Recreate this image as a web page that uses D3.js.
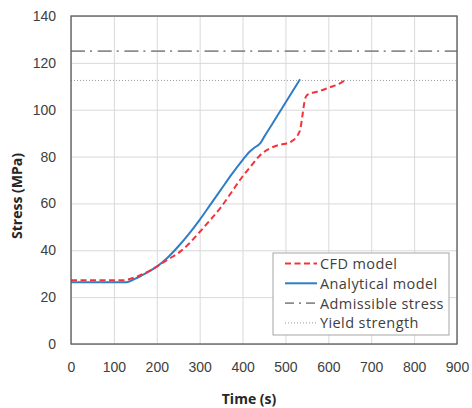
<!DOCTYPE html>
<html>
<head>
<meta charset="utf-8">
<script src="https://cdn.jsdelivr.net/npm/d3@7"></script>
<style>
  body { margin: 0; background: #fff; }
  svg { font-family: "Open Sans", "Liberation Sans", sans-serif; }
</style>
</head>
<body>
<svg id="chart" width="472" height="408"></svg>
<script>
// data
var cfdTime   = [0, 60, 120, 150, 175, 200, 225, 250, 275, 300, 325, 350, 375, 400, 420, 441, 464, 485, 500, 515, 527, 535, 540, 545, 550, 560, 580, 604, 625, 639];
var cfdStress = [27.2, 27.2, 27.2, 28.5, 30.5, 33, 36, 38.8, 42.8, 47.8, 53, 58.5, 65, 71.5, 76, 80.6, 83.5, 85, 85.5, 86.6, 88.7, 92, 98, 104, 106.2, 107, 108, 109.6, 111, 112.6];
var anaTime   = [0, 60, 130, 150, 175, 200, 225, 250, 275, 300, 325, 350, 375, 400, 417, 429, 441, 450, 470, 500, 534];
var anaStress = [26.4, 26.4, 26.4, 27.9, 30.3, 33, 36.8, 41.6, 47, 53, 59.5, 66, 72.5, 78.5, 82.2, 84, 85.6, 88.3, 94.1, 103, 113];
var admissible = 125;
var yieldStrength = 112.5;
var xTicks = [0, 100, 200, 300, 400, 500, 600, 700, 800, 900];
var yTicks = [0, 20, 40, 60, 80, 100, 120, 140];
var legendLabels = ["CFD model", "Analytical model", "Admissible stress", "Yield strength"];

var svg = d3.select("#chart");
var margin = {top: 16, right: 15, bottom: 64, left: 71},
    width = 472 - margin.left - margin.right,
    height = 408 - margin.top - margin.bottom;

var x = d3.scaleLinear().domain([0, 900]).range([0, width]);
var y = d3.scaleLinear().domain([0, 140]).range([height, 0]);

var g = svg.append("g").attr("transform", "translate(" + margin.left + "," + margin.top + ")");

// grid
g.append("g")
    .attr("class", "grid")
    .call(d3.axisBottom(x).tickValues(xTicks).tickSize(height).tickFormat(""))
    .call(function(s) { s.select(".domain").remove(); })
    .selectAll("line").style("stroke", "#d9d9d9").style("stroke-width", 1);
g.append("g")
    .attr("class", "grid")
    .call(d3.axisLeft(y).tickValues(yTicks).tickSize(-width).tickFormat(""))
    .call(function(s) { s.select(".domain").remove(); })
    .selectAll("line").style("stroke", "#d9d9d9").style("stroke-width", 1);

// axes labels
var xAxis = g.append("g")
    .attr("transform", "translate(0," + height + ")")
    .call(d3.axisBottom(x).tickValues(xTicks).tickSize(0).tickPadding(18));
xAxis.select(".domain").remove();
xAxis.selectAll("text").style("font-size", "14px").style("fill", "#404040");

var yAxis = g.append("g")
    .call(d3.axisLeft(y).tickValues(yTicks).tickSize(0).tickPadding(15));
yAxis.select(".domain").remove();
yAxis.selectAll("text").style("font-size", "14px").style("fill", "#404040");

// reference lines
g.append("line")
    .attr("x1", 0).attr("x2", width)
    .attr("y1", y(admissible)).attr("y2", y(admissible))
    .style("stroke", "#8c8c8c").style("stroke-width", 1.8)
    .style("stroke-dasharray", "14,5,2,5.7");
g.append("line")
    .attr("x1", 0).attr("x2", width)
    .attr("y1", y(yieldStrength)).attr("y2", y(yieldStrength))
    .style("stroke", "#9a9a9a").style("stroke-width", 1)
    .style("stroke-dasharray", "1,2");

var line = d3.line()
    .x(function(d) { return x(d[0]); })
    .y(function(d) { return y(d[1]); })
    .curve(d3.curveMonotoneX);

g.append("path")
    .datum(d3.zip(anaTime, anaStress))
    .attr("d", line)
    .style("fill", "none").style("stroke", "#2e7dc6").style("stroke-width", 2);

g.append("path")
    .datum(d3.zip(cfdTime, cfdStress))
    .attr("d", line)
    .style("fill", "none").style("stroke", "#f0343c").style("stroke-width", 2)
    .style("stroke-dasharray", "6,3.5");

// frame
g.append("rect")
    .attr("width", width).attr("height", height)
    .style("fill", "none").style("stroke", "#595959").style("stroke-width", 1.3);

// axis titles
svg.append("text")
    .attr("x", 249).attr("y", 404)
    .attr("text-anchor", "middle")
    .style("font-size", "14px").style("font-weight", "bold").style("fill", "#262626")
    .text("Time (s)");
svg.append("text")
    .attr("transform", "translate(22,196) rotate(-90)")
    .attr("text-anchor", "middle")
    .style("font-size", "14px").style("font-weight", "bold").style("fill", "#262626")
    .text("Stress (MPa)");

// legend
var legend = svg.append("g").attr("transform", "translate(273,253)");
legend.append("rect")
    .attr("width", 176).attr("height", 82)
    .style("fill", "#fff").style("stroke", "#a6a6a6").style("stroke-width", 1);

var legendStyles = [
    {stroke: "#f0343c", width: 2, dash: "6,3.5"},
    {stroke: "#2e7dc6", width: 2, dash: null},
    {stroke: "#8c8c8c", width: 1.8, dash: "9,5,2,5"},
    {stroke: "#9a9a9a", width: 1, dash: "1,2"}
];

var items = legend.selectAll("g.item")
    .data(legendLabels)
    .enter().append("g")
    .attr("class", "item")
    .attr("transform", function(d, i) { return "translate(0," + (10.5 + i * 19.8) + ")"; });

items.append("line")
    .attr("x1", 12).attr("x2", 44).attr("y1", 0).attr("y2", 0)
    .style("stroke", function(d, i) { return legendStyles[i].stroke; })
    .style("stroke-width", function(d, i) { return legendStyles[i].width; })
    .style("stroke-dasharray", function(d, i) { return legendStyles[i].dash; });

items.append("text")
    .attr("x", 47).attr("y", 5.5)
    .style("font-size", "14.5px").style("letter-spacing", "0.4px").style("fill", "#404040")
    .text(function(d) { return d; });
</script>
</body>
</html>
